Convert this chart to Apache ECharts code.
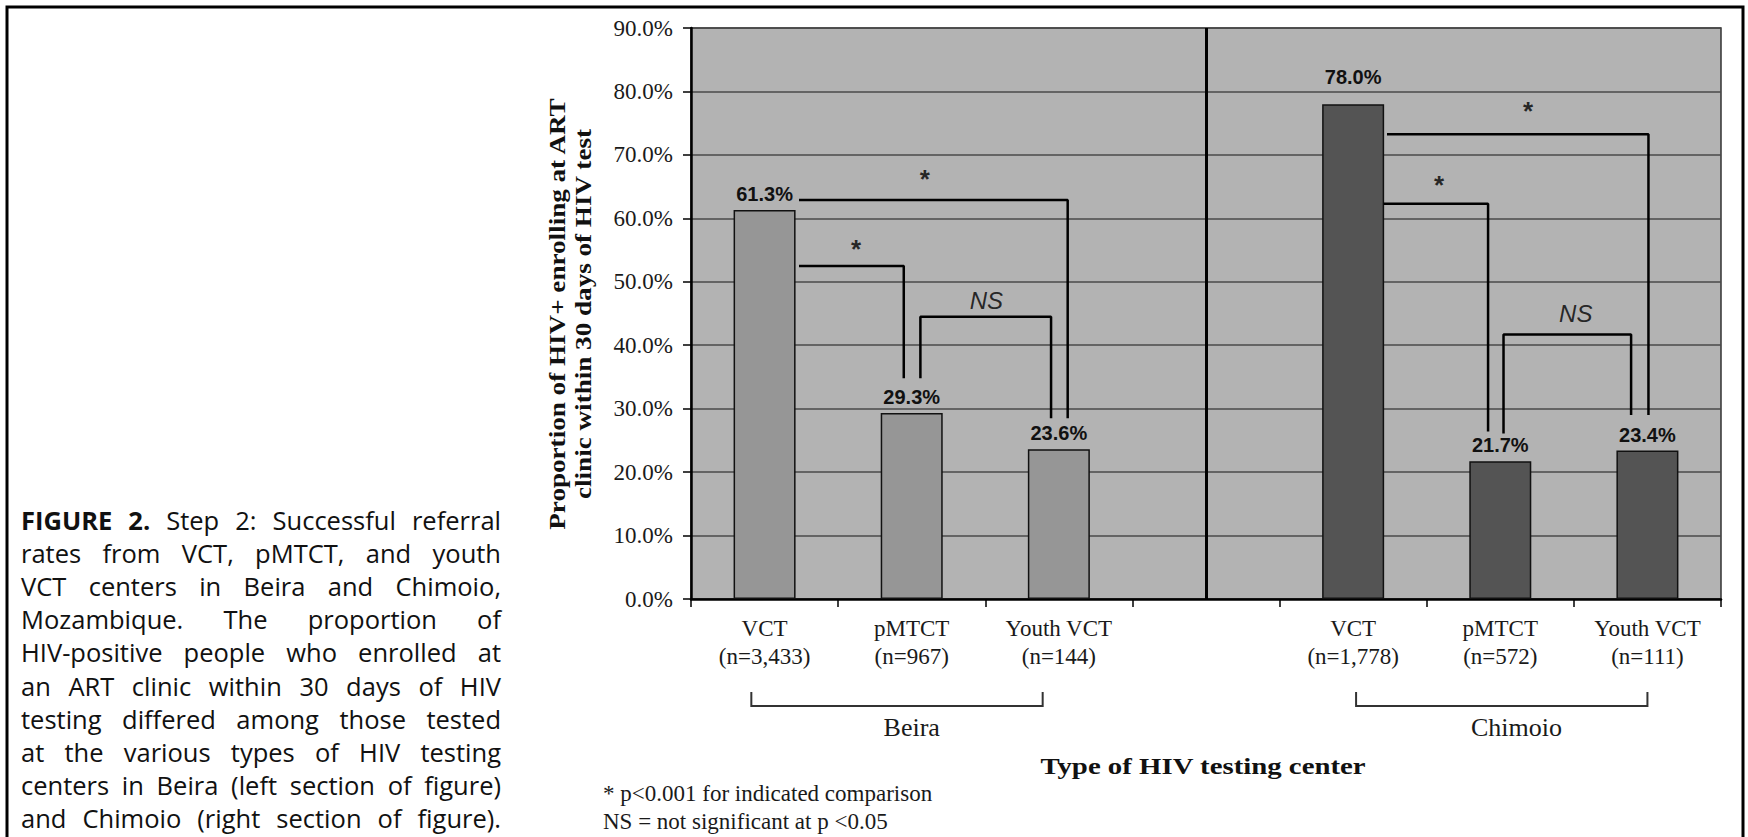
<!DOCTYPE html>
<html>
<head>
<meta charset="utf-8">
<script src="https://cdn.jsdelivr.net/npm/echarts@6/dist/echarts.min.js"></script>
<style>
html,body{margin:0;padding:0;background:#fff;}
#c{width:1748px;height:837px;}
</style>
</head>
<body>
<div id="c"></div>
<script>
// ---------------- data ----------------
const centerTypes = ['VCT', 'pMTCT', 'Youth VCT'];
const beiraN = ['3,433', '967', '144'];
const chimoioN = ['1,778', '572', '111'];
const beiraValues = [61.3, 29.3, 23.6];
const chimoioValues = [78.0, 21.7, 23.4];
const yMin = 0, yMax = 90, yStep = 10;

// significance brackets, in (category-band units, percent)
const bracketPaths = [
  [[0.734, 52.5], [1.446, 52.5], [1.446, 34.8]],
  [[0.734, 62.9], [2.560, 62.9], [2.560, 28.5]],
  [[1.559, 34.8], [1.559, 44.5], [2.447, 44.5], [2.447, 28.5]],
  [[4.730, 73.25], [6.507, 73.25], [6.507, 29.0]],
  [[4.707, 62.3], [5.417, 62.3], [5.417, 26.4]],
  [[5.522, 26.1], [5.522, 41.7], [6.389, 41.7], [6.389, 29.0]]
];
const bracketMarks = ['*', '*', 'NS', '*', '*', 'NS'];
const bracketMarkAt = [[1.121, 56.1], [1.589, 67.1], [2.008, 47.1], [5.688, 77.9], [5.084, 66.2], [6.013, 45.0]];

const cityNames = ['Beira', 'Chimoio'];
const citySpans = [[0.41, 2.39], [4.52, 6.50]];
const cityLabelAt = [1.50, 5.61];

const yAxisTitle = ['Proportion of HIV+ enrolling at ART', 'clinic within 30 days of HIV test'];
const xAxisTitle = 'Type of HIV testing center';
const footnotes = ['* p<0.001 for indicated comparison', 'NS = not significant at p <0.05'];
const captionLines = [
  'FIGURE 2. Step 2: Successful referral',
  'rates from VCT, pMTCT, and youth',
  'VCT centers in Beira and Chimoio,',
  'Mozambique. The proportion of',
  'HIV-positive people who enrolled at',
  'an ART clinic within 30 days of HIV',
  'testing differed among those tested',
  'at the various types of HIV testing',
  'centers in Beira (left section of figure)',
  'and Chimoio (right section of figure).'
];
const captionBoldWords = 2;

// ---------------- chart ----------------
const SERIF = "'Liberation Serif', 'Times New Roman', serif";
const SANS = "'Liberation Sans', Arial, sans-serif";
const CAPTION_FONT = "'Open Sans', 'Noto Sans', sans-serif";

const categories = [
  ...centerTypes.map((t, i) => t + '\n(n=' + beiraN[i] + ')'),
  '',
  ...centerTypes.map((t, i) => t + '\n(n=' + chimoioN[i] + ')')
];
const blank = n => Array(n).fill('-');
const beiraData = [...beiraValues, ...blank(4)];
const chimoioData = [...blank(4), ...chimoioValues.map((v, i) =>
  i === 0 ? { value: v, label: { distance: 17 } } : v)];

const chart = echarts.init(document.getElementById('c'), null, { renderer: 'svg', width: 1748, height: 837 });

const barLabel = {
  show: true, position: 'top', distance: 6,
  formatter: p => Number(p.value).toFixed(1) + '%',
  fontFamily: SANS, fontWeight: 'bold', fontSize: 20, color: '#111'
};

const series = [
  {
    name: 'Beira', type: 'bar', data: beiraData, barWidth: 62, barGap: '-100%',
    itemStyle: { color: '#969696', borderColor: '#111', borderWidth: 1.5 },
    label: barLabel, silent: true, z: 2,
    markLine: {
      silent: true, symbol: ['none', 'none'], label: { show: false },
      lineStyle: { color: '#000', width: 3, type: 'solid' },
      data: [{ xAxis: 3 }]
    }
  },
  {
    name: 'Chimoio', type: 'bar', data: chimoioData, barWidth: 62, barGap: '-100%',
    itemStyle: { color: '#545454', borderColor: '#111', borderWidth: 1.5 },
    label: barLabel, silent: true, z: 2
  }
];

bracketPaths.forEach(path => {
  series.push({
    type: 'line', xAxisIndex: 1, yAxisIndex: 0, data: path, symbol: 'none', silent: true, z: 3,
    lineStyle: { color: '#000', width: 2.5 }
  });
});

series.push({
  type: 'scatter', xAxisIndex: 1, yAxisIndex: 0, silent: true, z: 4,
  data: bracketMarkAt.filter((_, i) => bracketMarks[i] === '*'),
  symbolSize: 1, itemStyle: { color: 'rgba(0,0,0,0)' },
  label: { show: true, position: 'inside', formatter: '*', fontFamily: SANS, fontWeight: 'bold', fontSize: 26, color: '#000', offset: [0, 6] }
});
series.push({
  type: 'scatter', xAxisIndex: 1, yAxisIndex: 0, silent: true, z: 4,
  data: bracketMarkAt.filter((_, i) => bracketMarks[i] === 'NS'),
  symbolSize: 1, itemStyle: { color: 'rgba(0,0,0,0)' },
  label: { show: true, position: 'inside', formatter: 'NS', fontFamily: SANS, fontStyle: 'italic', fontSize: 24, color: '#000' }
});

const option = {
  animation: false,
  backgroundColor: '#ffffff',
  grid: {
    left: 691, right: 27, top: 28, bottom: 238,
    show: true, backgroundColor: '#b3b3b3', borderColor: '#333', borderWidth: 1.5,
    containLabel: false, outerBoundsMode: 'none'
  },
  xAxis: [
    {
      type: 'category', data: categories, boundaryGap: true,
      axisLine: { show: true, lineStyle: { color: '#000', width: 2.5 } },
      axisTick: { show: true, length: 8, alignWithLabel: false, interval: 0, lineStyle: { color: '#000', width: 1.5 } },
      axisLabel: { interval: 0, fontFamily: SERIF, fontSize: 23, lineHeight: 28, color: '#1a1a1a', margin: 15 },
      splitLine: { show: false }
    },
    { type: 'value', min: 0, max: 7, show: false }
  ],
  yAxis: {
    type: 'value', min: yMin, max: yMax, interval: yStep,
    axisLine: { show: true, lineStyle: { color: '#000', width: 2.5 } },
    axisTick: { show: true, inside: false, length: 8, lineStyle: { color: '#000', width: 1.5 } },
    axisLabel: { formatter: v => v.toFixed(1) + '%', fontFamily: SERIF, fontSize: 23, color: '#1a1a1a', margin: 18 },
    splitLine: { show: true, lineStyle: { color: '#4a4a4a', width: 1.5 } }
  },
  series: series
};

chart.setOption(option);

// ---------------- annotations outside the plot ----------------
function textEl(x, y, text, st, extra) {
  return Object.assign({
    type: 'text', x: x, y: y, silent: true,
    style: Object.assign({
      text: text, fill: '#1a1a1a',
      align: 'left', verticalAlign: 'middle', textAlign: 'left', textVerticalAlign: 'middle'
    }, st)
  }, extra || {});
}

function captionGraphics() {
  const left = 21, right = 501, top = 520, step = 33.1, size = 25.5;
  const ctx = document.createElement('canvas').getContext('2d');
  const measure = (t, bold) => { ctx.font = (bold ? 'bold ' : '') + size + 'px ' + CAPTION_FONT; return ctx.measureText(t).width; };
  const space = measure(' ', false);
  const lines = captionLines.map((line, li) => {
    const words = line.split(' ').map((w, wi) => ({ t: w, bold: li === 0 && wi < captionBoldWords }));
    words.forEach(w => { w.w = measure(w.t, w.bold); });
    const total = words.reduce((s, w) => s + w.w, 0);
    return { words: words, total: total, natural: total + space * (words.length - 1) };
  });
  const s = Math.min(1, ...lines.map(l => (right - left) / l.natural));
  const els = [];
  lines.forEach((l, li) => {
    const gap = ((right - left) - l.total * s) / (l.words.length - 1);
    let x = left;
    l.words.forEach(w => {
      els.push(textEl(x, top + li * step, w.t,
        { fontSize: size, fontFamily: CAPTION_FONT, fontWeight: w.bold ? 'bold' : 'normal', fill: '#111' },
        { scaleX: s }));
      x += w.w * s + gap;
    });
  });
  return els;
}

const px = v => chart.convertToPixel({ xAxisIndex: 1 }, v);
const graphics = [];

// outer frame
graphics.push({ type: 'rect', silent: true, shape: { x: 7, y: 7, width: 1736, height: 900 },
  style: { fill: 'none', stroke: '#000', lineWidth: 3 } });

// city brackets
cityNames.forEach((name, i) => {
  const x1 = px(citySpans[i][0]), x2 = px(citySpans[i][1]);
  graphics.push({ type: 'polyline', silent: true,
    shape: { points: [[x1, 692], [x1, 706], [x2, 706], [x2, 692]] },
    style: { fill: 'none', stroke: '#333', lineWidth: 2 } });
  graphics.push(textEl(px(cityLabelAt[i]), 727, name,
    { fontSize: 26, fontFamily: SERIF, align: 'center', textAlign: 'center' }));
});

// axis titles
graphics.push(textEl(1203, 766, xAxisTitle,
  { fontSize: 24, fontFamily: SERIF, fontWeight: 'bold', align: 'center', textAlign: 'center', fill: '#111' },
  { scaleX: 1.2 }));
graphics.push(textEl(570, 314, yAxisTitle.join('\n'),
  { fontSize: 24, fontFamily: SERIF, fontWeight: 'bold', lineHeight: 26, align: 'center', textAlign: 'center', fill: '#111' },
  { rotation: Math.PI / 2, scaleX: 1.13 }));

// footnotes
footnotes.forEach((t, i) => {
  graphics.push(textEl(603, 793 + i * 28, t, { fontSize: 23, fontFamily: SERIF }));
});

captionGraphics().forEach(g => graphics.push(g));

chart.setOption({ graphic: graphics });
</script>
</body>
</html>
